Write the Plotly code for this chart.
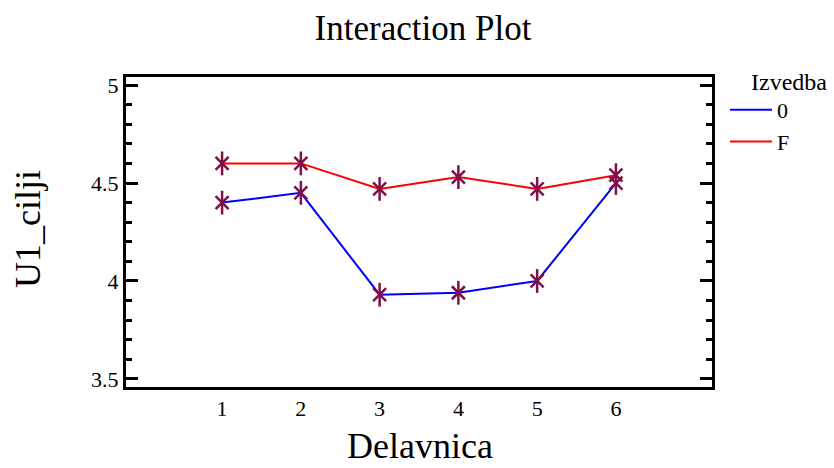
import plotly.graph_objects as go

categories = [1, 2, 3, 4, 5, 6]
series_names = ["0", "F"]
values_0 = [4.40, 4.45, 3.93, 3.94, 4.00, 4.50]
values_F = [4.60, 4.60, 4.47, 4.53, 4.47, 4.54]
line_colors = ["#0000FF", "#FF0000"]
marker_color = "#7F1048"
y_ticks = [3.5, 4, 4.5, 5]
y_tick_labels = ["3.5", "4", "4.5", "5"]
title_text = "Interaction Plot"
x_title = "Delavnica"
y_title = "U1_cilji"
legend_title = "Izvedba"

FONT = "Liberation Serif"
L, R, T, B = 126, 122, 77, 81
W, H = 834, 468
PW, PH = W - L - R, H - T - B

fig = go.Figure()
for name, vals, col in zip(series_names, [values_0, values_F], line_colors):
    fig.add_trace(go.Scatter(x=categories, y=vals, mode="lines", name=name,
                             line=dict(color=col, width=2)))
for name, vals in zip(series_names, [values_0, values_F]):
    fig.add_trace(go.Scatter(x=categories, y=vals, mode="markers", showlegend=False,
                             marker=dict(symbol="x-thin-open", size=13, color=marker_color,
                                         line=dict(color=marker_color, width=2.5))))
    fig.add_trace(go.Scatter(x=categories, y=vals, mode="markers", showlegend=False,
                             marker=dict(symbol="line-ns-open", size=17, color=marker_color,
                                         line=dict(color=marker_color, width=2.5))))

fig.update_layout(
    width=W, height=H,
    margin=dict(l=L, r=R, t=T, b=B),
    paper_bgcolor="white", plot_bgcolor="white",
    font=dict(family=FONT, color="black", size=22),
    title=dict(text=title_text, x=(L + 297) / W, xanchor="center",
               y=1 - 28 / H, yanchor="middle", yref="container",
               font=dict(size=35, family=FONT)),
    legend=dict(x=(733 - 8 - L) / PW, y=1 + (T - 89) / PH,
                xanchor="left", yanchor="top", font=dict(size=22),
                bgcolor="rgba(0,0,0,0)", tracegroupgap=0, itemwidth=42),
    showlegend=True,
    annotations=[
        dict(text=legend_title, xref="paper", yref="paper", showarrow=False,
             x=(749 - L) / PW, y=1 + (T - 82) / PH, xanchor="left", yanchor="middle",
             font=dict(size=24)),
        dict(text=x_title, xref="paper", yref="paper", showarrow=False,
             x=(420 - L) / PW, y=-(468 - T - PH) / PH, xanchor="center", yanchor="bottom",
             font=dict(size=36)),
        dict(text=y_title, xref="paper", yref="paper", showarrow=False, textangle=-90,
             x=-(L - 28) / PW, y=1 - (229 - T) / PH, xanchor="center", yanchor="middle",
             font=dict(size=36)),
    ],
)
fig.update_xaxes(range=[-0.22, 7.22], tickvals=categories, ticktext=[str(c) for c in categories],
                 showgrid=False, zeroline=False, showline=True, linecolor="black", linewidth=3,
                 mirror=True, ticks="", tickfont=dict(size=22), automargin=False)
fig.update_yaxes(range=[3.459, 5.041], tickvals=y_ticks, ticktext=y_tick_labels,
                 showgrid=False, zeroline=False, showline=True, linecolor="black", linewidth=3,
                 mirror="ticks", ticks="inside", ticklen=12, tickwidth=3, tickcolor="black",
                 minor=dict(dtick=0.1, ticks="inside", ticklen=6, tickwidth=3, tickcolor="black"),
                 tickfont=dict(size=22), automargin=False)

fig.write_html("out.html")
